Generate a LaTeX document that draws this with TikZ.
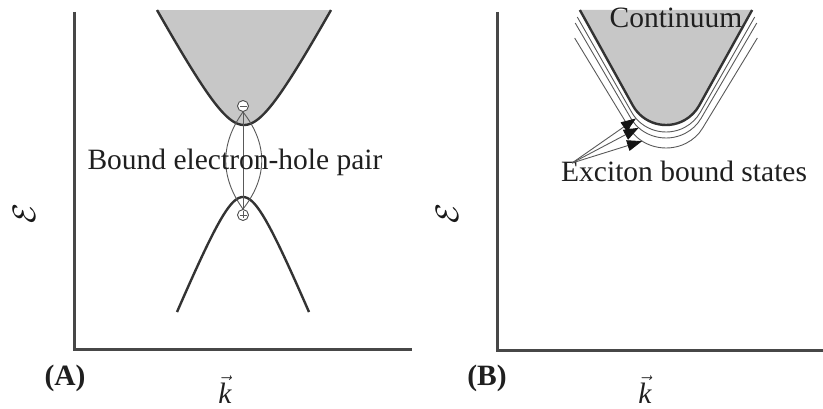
\documentclass[tikz,border=0pt]{standalone}
\usepackage{fontspec}
\setmainfont{Liberation Serif}
\usetikzlibrary{arrows.meta,calc}
\newcommand\contcurve[2]{%
  \draw[#1] ({632.76-(105.42-#2)/1.804},#2) -- (632.76,105.42)
    arc[start angle=151,end angle=29,radius=38] -- ({699.24+(105.42-#2)/1.804},#2);}
\begin{document}
\begin{tikzpicture}[x=1pt,y=-1pt,
  axis/.style={line width=3pt, draw=black!72, line join=miter},
  band/.style={line width=2.4pt, draw=black!80, line join=round},
  thinl/.style={line width=0.9pt, draw=black!65},
  lbl/.style={font=\fontsize{29.5}{32}\selectfont, text=black!88, inner sep=0pt},
  epsl/.style={font=\fontsize{24.88}{28}\selectfont, text=black!90, inner sep=0pt, rotate=90, scale=1.3, transform shape},
  ptcl/.style={circle, draw=black!70, line width=0.9pt, fill=white, minimum size=11pt, inner sep=0pt},
  gap/.style={fill=black!22},
  tip/.style={-{Triangle[length=15pt,width=11pt,color=black!92]}}
]
\useasboundingbox (0,0) rectangle (823,409);

% ---------- Panel A ----------
\fill[gap] plot[domain=-87:87, samples=90, smooth] ({244+\x},{125-55.6*(sqrt(1+(\x/30)^2)-1)}) -- cycle;
\draw[band] plot[domain=-87:87, samples=90, smooth] ({244+\x},{125-55.6*(sqrt(1+(\x/30)^2)-1)});
\draw[band] plot[domain=-66:66, samples=90, smooth] ({243+\x},{197+53.2*(sqrt(1+(\x/22)^2)-1)});

\node[ptcl] (el) at (243,106) {};
\node[ptcl] (hl) at (243,215) {};
\draw[thinl] (el.south) .. controls (220,144) and (220,177) .. (hl.north);
\draw[thinl] (el.south) .. controls (268,144) and (268,177) .. (hl.north);
\draw[thinl] (el.south) -- (hl.north);
\draw[thinl] (239.5,106) -- (246.5,106);
\draw[thinl] (239.5,215) -- (246.5,215) (243,211.5) -- (243,218.5);

\node[lbl, anchor=base] (pair) at (235,170) {Bound electron-hole pair};

\draw[axis] (74,12) -- (74,349) -- (412,349);
\node[epsl] (epsA) at (24,214) {$\mathcal{E}$};
\node[lbl, anchor=base] (lblA) at (65,385) {\textbf{(A)}};
\node[lbl, anchor=base] (kA) at (225,403) {$\vec{\mbox{\itshape k}}$};

% ---------- Panel B ----------
\fill[gap] (579.9,10) -- (632.76,105.42) arc[start angle=151,end angle=29,radius=38] -- (752.1,10) -- cycle;
\begin{scope}[shift={(666,7)}, xscale=1.03, shift={(-666,0)}]
  \contcurve{thinl}{10}
\end{scope}
\begin{scope}[shift={(666,13)}, xscale=1.054, shift={(-666,0)}]
  \contcurve{thinl}{10}
\end{scope}
\begin{scope}[shift={(666,23)}, xscale=1.096, shift={(-666,0)}]
  \contcurve{thinl}{15}
\end{scope}
\contcurve{band}{10}

\node[lbl, anchor=base] (cont) at (676,28) {Continuum};
\node[lbl, anchor=base west] (exc) at (561,182) {Exciton bound states};

\coordinate (src) at (572,163);
\coordinate (t1) at ({666+38*1.03*cos(140)},{87+38*sin(140)+7});
\coordinate (t2) at ({666+38*1.054*cos(133)},{87+38*sin(133)+13});
\coordinate (t3) at ({666+38*1.096*cos(125)},{87+38*sin(125)+23});
\draw[thinl, tip] (src) -- (t1);
\draw[thinl, tip] (src) -- (t2);
\draw[thinl, tip] (src) -- (t3);

\draw[axis] (497,12) -- (497,350) -- (823,350);
\node[epsl] (epsB) at (447,214) {$\mathcal{E}$};
\node[lbl, anchor=base] (lblB) at (487,385) {\textbf{(B)}};
\node[lbl, anchor=base] (kB) at (645,403) {$\vec{\mbox{\itshape k}}$};
\end{tikzpicture}
\end{document}
